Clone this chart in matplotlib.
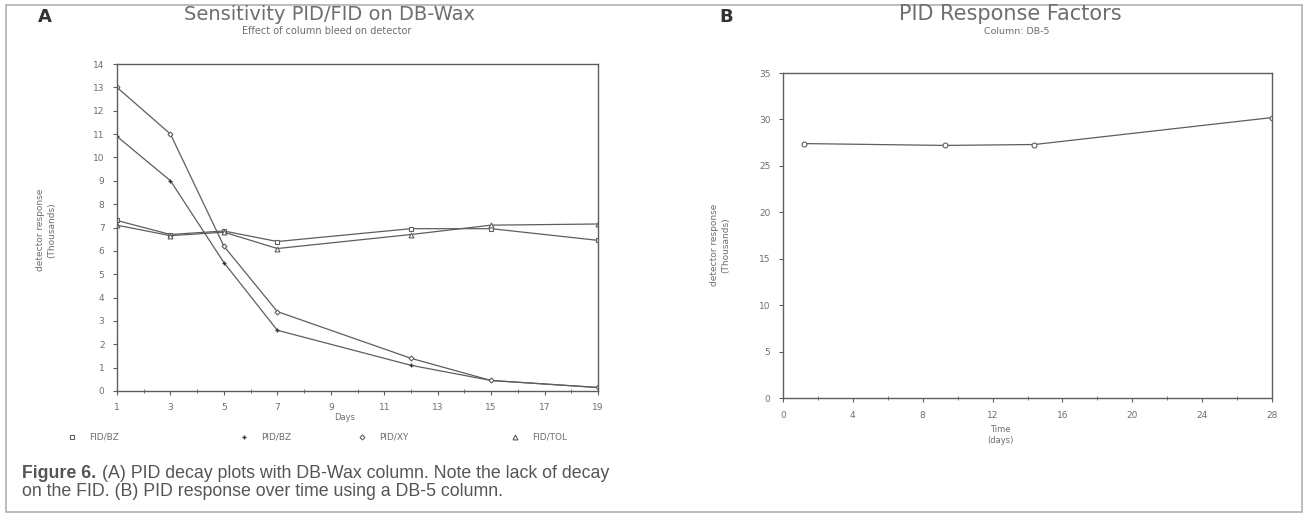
import matplotlib.pyplot as plt
from matplotlib.patches import Rectangle
from matplotlib.lines import Line2D

# ---- panel A data (days vs detector response, thousands) ----
days_a = [1, 3, 5, 7, 12, 15, 19]
fid_bz = [7.3, 6.7, 6.85, 6.4, 6.95, 6.95, 6.45]
pid_bz = [10.9, 9.0, 5.5, 2.6, 1.1, 0.45, 0.15]
pid_xy = [13.0, 11.0, 6.2, 3.4, 1.4, 0.45, 0.15]
fid_tol = [7.1, 6.65, 6.8, 6.1, 6.7, 7.1, 7.15]
series_names = ["FID/BZ", "PID/BZ", "PID/XY", "FID/TOL"]
xticks_a = [1, 3, 5, 7, 9, 11, 13, 15, 17, 19]
yticks_a = list(range(0, 15))

# ---- panel B data ----
days_b = [1.2, 9.3, 14.4, 28]
resp_b = [27.4, 27.2, 27.3, 30.2]
xticks_b = [0, 4, 8, 12, 16, 20, 24, 28]
yticks_b = [0, 5, 10, 15, 20, 25, 30, 35]

ink = "#5e5e5e"
txt = "#6e6e6e"
plt.rcParams["font.family"] = ["DejaVu Sans"]

W, H = 1308, 521
fig = plt.figure(figsize=(W / 100, H / 100), dpi=100)


def fx(px):
    return px / W


def fy(py):
    return 1 - py / H


# outer frame of the scanned page
fig.patches.append(Rectangle((fx(6), fy(512)), 1296 / W, 507 / H,
                             transform=fig.transFigure, fill=False,
                             edgecolor="#b0b0b0", linewidth=1.2))


def style(ax):
    for s in ax.spines.values():
        s.set_color(ink)
        s.set_linewidth(1.0)
    ax.tick_params(direction="out", length=3, width=0.8, colors=ink,
                   labelsize=6.5, labelcolor=txt, pad=6)
    ax.tick_params(which="minor", direction="inout", length=3, width=0.6, colors=ink)


# ===== panel A =====
axa = fig.add_axes([fx(117), fy(391), 481 / W, 327 / H])
styles = [dict(marker="s", ms=3.5, mfc="white", mec=ink, mew=0.8),
          dict(marker="+", ms=3.5, mec="#333333", mew=1.0),
          dict(marker="D", ms=2.5, mfc="white", mec=ink, mew=0.8),
          dict(marker="^", ms=3.5, mfc="white", mec=ink, mew=0.8)]
for vals, st in zip([fid_bz, pid_bz, pid_xy, fid_tol], styles):
    axa.plot(days_a, vals, color=ink, lw=0.9, **st)
axa.set_xlim(1, 19)
axa.set_ylim(0, 14)
axa.set_xticks(xticks_a)
axa.set_xticks(range(1, 20), minor=True)
axa.set_yticks(yticks_a)
style(axa)
fig.text(fx(46), fy(230), "detector response\n(Thousands)", fontsize=6.5, color=txt,
         rotation=90, ha="center", va="center", linespacing=1.3)
fig.text(fx(345), fy(417), "Days", fontsize=6, color=txt, ha="center", va="center")

# legend row under panel A
leg_marker_x = [72, 244, 362, 515]
for name, st, mx in zip(series_names, styles, leg_marker_x):
    fig.add_artist(Line2D([fx(mx)], [fy(437)], transform=fig.transFigure,
                          linestyle="none", **st))
    fig.text(fx(mx + 17), fy(437), name, fontsize=6.5, color=txt,
             ha="left", va="center")

fig.text(fx(330), fy(14), "Sensitivity PID/FID on DB-Wax", fontsize=14,
         color=txt, ha="center", va="center")
fig.text(fx(327), fy(31), "Effect of column bleed on detector", fontsize=7,
         color=txt, ha="center", va="center")
fig.text(fx(38), fy(17), "A", fontsize=13, fontweight="bold",
         color="#333333", ha="left", va="center")

# ===== panel B =====
axb = fig.add_axes([fx(783), fy(398), 489 / W, 325 / H])
axb.plot(days_b, resp_b, color=ink, lw=0.9, marker="o", ms=3.5,
         mfc="white", mec=ink, mew=0.8)
axb.set_xlim(0, 28)
axb.set_ylim(0, 35)
axb.set_xticks(xticks_b)
axb.set_xticks(range(0, 29, 2), minor=True)
axb.set_yticks(yticks_b)
style(axb)
fig.text(fx(720), fy(245), "detector response\n(Thousands)", fontsize=6.5, color=txt,
         rotation=90, ha="center", va="center", linespacing=1.3)
fig.text(fx(1000), fy(435), "Time\n(days)", fontsize=6, color=txt,
         ha="center", va="center")

fig.text(fx(1010), fy(14), "PID Response Factors", fontsize=15,
         color=txt, ha="center", va="center")
fig.text(fx(1017), fy(31), "Column: DB-5", fontsize=6.8,
         color=txt, ha="center", va="center")
fig.text(fx(719), fy(17), "B", fontsize=13, fontweight="bold",
         color="#333333", ha="left", va="center")

# ===== caption =====
cap_font = ["Liberation Sans", "DejaVu Sans"]
head = fig.text(fx(22), fy(473), "Figure 6.", fontsize=12.8, fontweight="bold",
                color="#555555", family=cap_font, ha="left", va="center")
fig.canvas.draw()
bb = head.get_window_extent()
fig.text(fx(bb.x1 + 6), fy(473),
         "(A) PID decay plots with DB-Wax column. Note the lack of decay",
         fontsize=12.8, color="#555555", family=cap_font, ha="left", va="center")
fig.text(fx(22), fy(491),
         "on the FID. (B) PID response over time using a DB-5 column.",
         fontsize=12.8, color="#555555", family=cap_font, ha="left", va="center")

fig.savefig("out.png", dpi=100, facecolor="white")
